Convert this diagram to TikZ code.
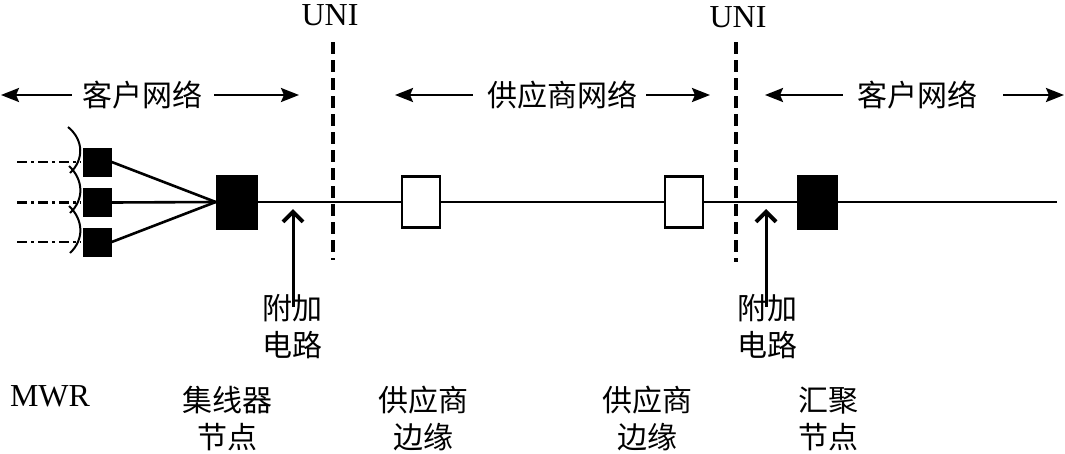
\documentclass[tikz,border=0pt]{standalone}
\usepackage{fontspec}
\setmainfont{Liberation Serif}
\newfontfamily\cjk{Noto Sans CJK SC}
\usetikzlibrary{arrows.meta}
\begin{document}
\begin{tikzpicture}[x=1pt,y=-1pt,
  blk/.style={draw, fill=black, minimum width=28pt, minimum height=28pt, inner sep=0pt, line width=0.5pt},
  hubbox/.style={draw, fill=black, minimum width=41pt, minimum height=54pt, inner sep=0pt, line width=0.5pt},
  pebox/.style={draw, fill=white, line width=2.6pt, minimum width=38pt, minimum height=51pt, inner sep=0pt},
  ln/.style={line width=2.6pt},
  dd/.style={line width=2.6pt, dash pattern=on 10pt off 4pt on 3pt off 4pt},
  uni/.style={line width=3.2pt, dash pattern=on 12pt off 6pt},
  brc/.style={line width=2pt},
  cj/.style={font=\cjk\fontsize{30}{37}\selectfont, align=center, inner sep=0pt},
  lt/.style={font=\fontsize{32}{36}\selectfont, inner sep=0pt},
  tarr/.style={line width=2.6pt, -{Stealth[length=18pt, width=14pt, inset=3pt]}},
  uarr/.style={line width=3pt, -{Straight Barb[length=10pt, width=20pt, line width=4pt]}}
]
\useasboundingbox (0,0) rectangle (1065,453);

% MWR boxes and hub
\node[blk] (m1) at (97.5,162) {};
\node[blk] (m2) at (97.5,202.5) {};
\node[blk] (m3) at (97.5,242) {};
\node[hubbox] (hub) at (236.5,202) {};
\node[pebox] (pe1) at (421,202) {};
\node[pebox] (pe2) at (684,202) {};
\node[hubbox, minimum width=40pt] (agg) at (817,202) {};
\coordinate (rend) at (1057,202);

% fan lines
\draw[ln] (m1.east) -- (hub.west);
\draw[ln] (m2.east) -- (hub.west);
\draw[ln] (m3.east) -- (hub.west);

% main line
\draw[ln] (hub.east) -- (pe1.west);
\draw[ln] (pe1.east) -- (pe2.west);
\draw[ln] (pe2.east) -- (agg.west);
\draw[ln] (agg.east) -- (rend);

% dash-dot inputs
\coordinate (d1) at (17,162);
\coordinate (d2) at (17,202.5);
\coordinate (d3) at (17,242);
\draw[dd] (d1) -- ([xshift=-3pt]m1.west);
\draw[dd] (d2) -- ([xshift=-3pt]m2.west);
\draw[dd] (d3) -- ([xshift=-3pt]m3.west);

% braces
\draw[brc] (68,127) .. controls (84,140) and (84,160) .. (70,173);
\draw[brc] (69,166) .. controls (84,180) and (84,200) .. (70,213);
\draw[brc] (69,206) .. controls (84,220) and (84,240) .. (70,253);

% UNI lines
\node[lt] (uni1) at (330,15) {UNI};
\node[lt] (uni2) at (738,17) {UNI};
\coordinate (u1a) at (333,42);
\coordinate (u1b) at (333,260);
\coordinate (u2a) at (736,42);
\coordinate (u2b) at (736,262);
\draw[uni] (u1a) -- (u1b);
\draw[uni] (u2a) -- (u2b);

% top labels
\node[cj] (cn1) at (142,95) {客户网络};
\node[cj] (pn) at (562,95) {供应商网络};
\node[cj] (cn2) at (917,95) {客户网络};
\coordinate (a1l) at (1,95);
\coordinate (a1r) at (299,95);
\coordinate (a2l) at (395,95);
\coordinate (a2r) at (710,95);
\coordinate (a3l) at (765,95);
\coordinate (a3r) at (1064,95);
\draw[tarr] ([xshift=-10pt]cn1.west) -- (a1l);
\draw[tarr] ([xshift=12pt]cn1.east) -- (a1r);
\draw[tarr] ([xshift=-14pt]pn.west) -- (a2l);
\draw[tarr] ([xshift=9pt]pn.east) -- (a2r);
\draw[tarr] ([xshift=-14pt]cn2.west) -- (a3l);
\draw[tarr] ([xshift=26pt]cn2.east) -- (a3r);

% additional circuit
\node[cj] (ac1) at (292,327) {附加\\电路};
\node[cj] (ac2) at (767,327) {附加\\电路};
\coordinate (t1) at (293,209);
\coordinate (t2) at (766,209);
\draw[uarr] ([yshift=-12pt]ac1.north -| t1) -- (t1);
\draw[uarr] ([yshift=-12pt]ac2.north -| t2) -- (t2);

% bottom labels
\node[lt] (mwr) at (50,396) {MWR};
\node[cj] (hubl) at (227,419) {集线器\\节点};
\node[cj] (pe1l) at (423,419) {供应商\\边缘};
\node[cj] (pe2l) at (647,419) {供应商\\边缘};
\node[cj] (aggl) at (828,419) {汇聚\\节点};
\end{tikzpicture}
\end{document}
